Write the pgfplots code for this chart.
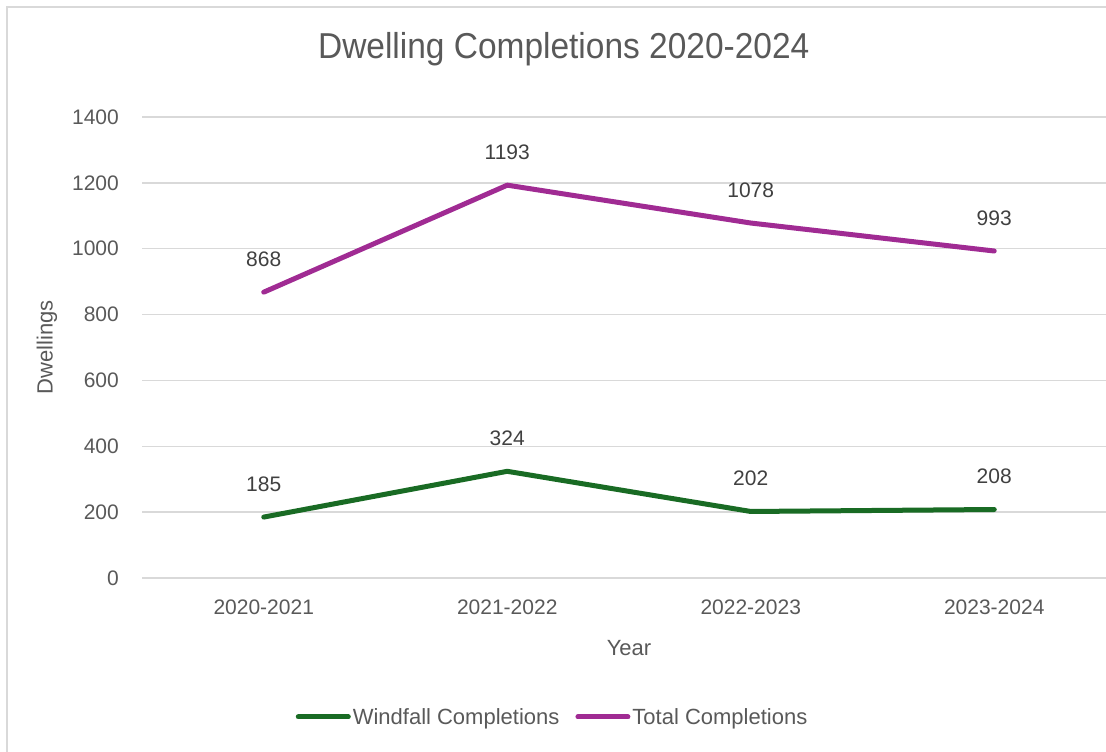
\documentclass[border=0pt]{standalone}
\usepackage{fontspec}
\setmainfont{Liberation Sans}
\newfontfamily\titlefont[FakeStretch=0.93]{Liberation Sans}
\usepackage{pgfplots}
\pgfplotsset{compat=1.18}
\definecolor{wgreen}{HTML}{196B24}
\definecolor{tpurple}{HTML}{A02B93}
\definecolor{gridgray}{HTML}{D9D9D9}
\definecolor{txtgray}{HTML}{595959}
\definecolor{lblgray}{HTML}{404040}
\begin{document}
\begin{tikzpicture}
\path[use as bounding box] (0,0) rectangle (1106pt,752pt);
\draw[gridgray, line width=2pt] (7pt,-20pt) rectangle (1130pt,745pt);
\begin{axis}[
  at={(142pt,174pt)}, anchor=south west,
  scale only axis, width=974pt, height=461pt,
  xmin=-0.5, xmax=3.5, ymin=0, ymax=1400,
  xtick={0,1,2,3},
  xticklabels={2020-2021,2021-2022,2022-2023,2023-2024},
  ytick={0,200,400,600,800,1000,1200,1400},
  ymajorgrids, grid style={gridgray, line width=1.5pt},
  axis line style={draw=none},
  major tick length=0pt,
  /pgf/number format/assume math mode=true,
  /pgf/number format/1000 sep={},
  tick label style={font=\fontsize{21}{25}\selectfont, text=txtgray, inner sep=0pt},
  yticklabel style={anchor=east, xshift=-23pt},
  xticklabel style={anchor=north, yshift=-22pt},
  title={\titlefont Dwelling Completions 2020-2024},
  title style={at={(axis description cs:0.433,1.1128)}, anchor=base, inner sep=0pt, font=\fontsize{36}{40}\selectfont, text=txtgray},
  xlabel={Year},
  xlabel style={at={(axis description cs:0.5,-0.152)}, anchor=center, font=\fontsize{22}{26}\selectfont, text=txtgray},
  ylabel={Dwellings},
  ylabel style={at={(axis description cs:-0.0975,0.5)}, anchor=center, font=\fontsize{22}{26}\selectfont, text=txtgray},
  nodes near coords,
  every node near coord/.style={anchor=center, yshift=33pt, font=\fontsize{21}{25}\selectfont, text=lblgray},
  legend columns=2,
  legend style={at={(axis description cs:0.4215,-0.3015)}, anchor=center, draw=none, fill=none,
    font=\fontsize{22}{26}\selectfont, text=txtgray,
    nodes={inner xsep=2pt, inner ysep=0pt},
    /tikz/every even column/.append style={column sep=14pt}},
  legend image code/.code={\draw[#1, line cap=round] (0pt,0pt) -- (50pt,0pt);},
]
\addplot[wgreen, line width=5pt, line cap=round, line join=round] coordinates {(0,185) (1,324) (2,202) (3,208)};
\addlegendentry{Windfall Completions}
\addplot[tpurple, line width=5pt, line cap=round, line join=round] coordinates {(0,868) (1,1193) (2,1078) (3,993)};
\addlegendentry{Total Completions}
\end{axis}
\end{tikzpicture}
\end{document}
